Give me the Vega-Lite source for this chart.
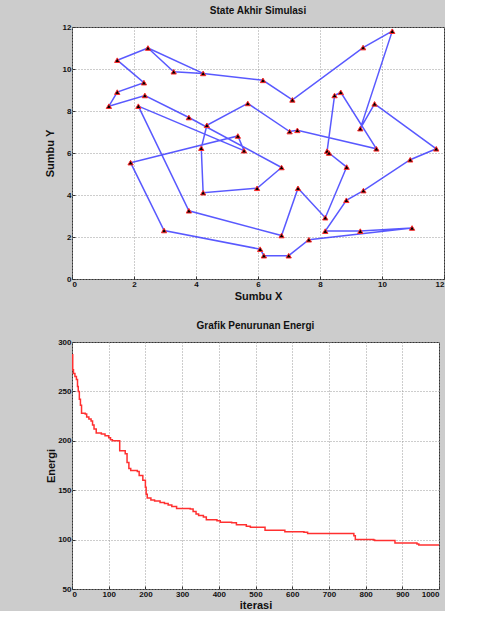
{
  "$schema": "https://vega.github.io/schema/vega-lite/v6.json",
  "background": "#cccccc",
  "padding": {"left": 43, "top": 5, "right": 0, "bottom": 0},
  "spacing": 18,
  "config": {
    "font": "Liberation Sans",
    "view": {"fill": "white", "stroke": "#333333", "strokeWidth": 1},
    "axis": {
      "labelFont": "Liberation Sans", "labelFontSize": 8, "labelFontWeight": "bold", "labelColor": "#111111",
      "titleFont": "Liberation Sans", "titleFontSize": 11, "titleFontWeight": "bold", "titleColor": "#111111",
      "domain": false, "tickColor": "#333333", "tickSize": -3, "labelPadding": 4,
      "gridColor": "#9a9a9a", "gridDash": [1, 2], "gridOpacity": 1, "gridWidth": 1
    },
    "title": {"font": "Liberation Sans", "fontSize": 10, "fontWeight": "bold", "color": "#111111", "offset": 7}
  },
  "vconcat": [
    {
      "width": 372,
      "height": 252,
      "title": "State Akhir Simulasi",
      "data": {"values": [
        {"jalur": 1, "urutan": 1, "x": 2.45, "y": 11.0},
        {"jalur": 1, "urutan": 2, "x": 1.46, "y": 10.42},
        {"jalur": 1, "urutan": 3, "x": 2.32, "y": 9.35},
        {"jalur": 1, "urutan": 4, "x": 1.46, "y": 8.9},
        {"jalur": 1, "urutan": 5, "x": 1.19, "y": 8.23},
        {"jalur": 1, "urutan": 6, "x": 2.35, "y": 8.74},
        {"jalur": 1, "urutan": 7, "x": 3.77, "y": 7.69},
        {"jalur": 1, "urutan": 8, "x": 6.76, "y": 5.31},
        {"jalur": 1, "urutan": 9, "x": 5.97, "y": 4.32},
        {"jalur": 1, "urutan": 10, "x": 4.23, "y": 4.11},
        {"jalur": 1, "urutan": 11, "x": 4.17, "y": 6.23},
        {"jalur": 1, "urutan": 12, "x": 4.35, "y": 7.32},
        {"jalur": 1, "urutan": 13, "x": 5.67, "y": 8.36},
        {"jalur": 1, "urutan": 14, "x": 7.02, "y": 7.02},
        {"jalur": 1, "urutan": 15, "x": 7.27, "y": 7.08},
        {"jalur": 1, "urutan": 16, "x": 9.82, "y": 6.2},
        {"jalur": 1, "urutan": 17, "x": 8.67, "y": 8.89},
        {"jalur": 1, "urutan": 18, "x": 8.47, "y": 8.74},
        {"jalur": 1, "urutan": 19, "x": 8.23, "y": 6.09},
        {"jalur": 1, "urutan": 20, "x": 8.29, "y": 6.0},
        {"jalur": 1, "urutan": 21, "x": 8.86, "y": 5.33},
        {"jalur": 1, "urutan": 22, "x": 8.17, "y": 2.92},
        {"jalur": 1, "urutan": 23, "x": 7.29, "y": 4.32},
        {"jalur": 1, "urutan": 24, "x": 6.76, "y": 2.07},
        {"jalur": 1, "urutan": 25, "x": 3.77, "y": 3.25},
        {"jalur": 1, "urutan": 26, "x": 2.14, "y": 8.23},
        {"jalur": 1, "urutan": 27, "x": 5.55, "y": 6.11},
        {"jalur": 1, "urutan": 28, "x": 5.35, "y": 6.81},
        {"jalur": 1, "urutan": 29, "x": 1.89, "y": 5.54},
        {"jalur": 1, "urutan": 30, "x": 2.97, "y": 2.31},
        {"jalur": 1, "urutan": 31, "x": 6.07, "y": 1.42},
        {"jalur": 1, "urutan": 32, "x": 6.19, "y": 1.11},
        {"jalur": 1, "urutan": 33, "x": 6.99, "y": 1.11},
        {"jalur": 1, "urutan": 34, "x": 7.64, "y": 1.87},
        {"jalur": 1, "urutan": 35, "x": 10.97, "y": 2.43},
        {"jalur": 1, "urutan": 36, "x": 9.3, "y": 2.28},
        {"jalur": 1, "urutan": 37, "x": 8.17, "y": 2.28},
        {"jalur": 1, "urutan": 38, "x": 8.85, "y": 3.75},
        {"jalur": 1, "urutan": 39, "x": 9.4, "y": 4.21},
        {"jalur": 1, "urutan": 40, "x": 10.91, "y": 5.68},
        {"jalur": 1, "urutan": 41, "x": 11.75, "y": 6.2},
        {"jalur": 1, "urutan": 42, "x": 9.76, "y": 8.34},
        {"jalur": 1, "urutan": 43, "x": 9.3, "y": 7.16},
        {"jalur": 1, "urutan": 44, "x": 10.33, "y": 11.8},
        {"jalur": 1, "urutan": 45, "x": 9.39, "y": 11.02},
        {"jalur": 1, "urutan": 46, "x": 7.11, "y": 8.53},
        {"jalur": 1, "urutan": 47, "x": 6.16, "y": 9.46},
        {"jalur": 1, "urutan": 48, "x": 4.23, "y": 9.79},
        {"jalur": 1, "urutan": 49, "x": 3.28, "y": 9.87},
        {"jalur": 1, "urutan": 50, "x": 2.45, "y": 11.0},
        {"jalur": 2, "urutan": 51, "x": 2.45, "y": 11.0},
        {"jalur": 2, "urutan": 52, "x": 4.23, "y": 9.79}
      ]},
      "encoding": {
        "x": {"field": "x", "type": "quantitative", "scale": {"domain": [0, 12], "nice": false},
              "axis": {"values": [0, 2, 4, 6, 8, 10, 12], "title": "Sumbu X", "titlePadding": 2}},
        "y": {"field": "y", "type": "quantitative", "scale": {"domain": [0, 12], "nice": false},
              "axis": {"values": [0, 2, 4, 6, 8, 10, 12], "title": "Sumbu Y", "titlePadding": 7}}
      },
      "layer": [
        {
          "mark": {"type": "line", "color": "#3c3cff", "strokeWidth": 1.5, "opacity": 0.85},
          "encoding": {"order": {"field": "urutan", "type": "quantitative"}, "detail": {"field": "jalur", "type": "nominal"}}
        },
        {
          "transform": [{"filter": "datum.urutan < 50"}],
          "mark": {"type": "point", "shape": "triangle-up", "filled": true, "fill": "#000000", "stroke": "#ff2a2a", "strokeWidth": 1, "size": 28, "opacity": 1},
          "encoding": {}
        }
      ]
    },
    {
      "width": 367,
      "height": 247,
      "title": "Grafik Penurunan Energi",
      "data": {"values": [
        {"iterasi": 0, "energi": 287},
        {"iterasi": 2, "energi": 272},
        {"iterasi": 4, "energi": 268},
        {"iterasi": 8, "energi": 265},
        {"iterasi": 12, "energi": 262},
        {"iterasi": 15, "energi": 255},
        {"iterasi": 17, "energi": 250},
        {"iterasi": 20, "energi": 242},
        {"iterasi": 23, "energi": 236},
        {"iterasi": 26, "energi": 228},
        {"iterasi": 36, "energi": 227},
        {"iterasi": 40, "energi": 224},
        {"iterasi": 46, "energi": 222},
        {"iterasi": 52, "energi": 220},
        {"iterasi": 56, "energi": 216},
        {"iterasi": 60, "energi": 212},
        {"iterasi": 66, "energi": 208},
        {"iterasi": 80, "energi": 207},
        {"iterasi": 90, "energi": 205},
        {"iterasi": 100, "energi": 203},
        {"iterasi": 105, "energi": 201},
        {"iterasi": 110, "energi": 200},
        {"iterasi": 130, "energi": 190},
        {"iterasi": 145, "energi": 187},
        {"iterasi": 150, "energi": 178},
        {"iterasi": 155, "energi": 172},
        {"iterasi": 160, "energi": 170},
        {"iterasi": 178, "energi": 169},
        {"iterasi": 183, "energi": 165},
        {"iterasi": 193, "energi": 160},
        {"iterasi": 200, "energi": 153},
        {"iterasi": 202, "energi": 146},
        {"iterasi": 205, "energi": 142},
        {"iterasi": 215, "energi": 140},
        {"iterasi": 225, "energi": 139},
        {"iterasi": 240, "energi": 137.5},
        {"iterasi": 252, "energi": 136.5},
        {"iterasi": 262, "energi": 135},
        {"iterasi": 272, "energi": 133.5},
        {"iterasi": 285, "energi": 131.5},
        {"iterasi": 322, "energi": 131},
        {"iterasi": 330, "energi": 128.5},
        {"iterasi": 338, "energi": 126},
        {"iterasi": 345, "energi": 124.5},
        {"iterasi": 358, "energi": 123},
        {"iterasi": 366, "energi": 120},
        {"iterasi": 395, "energi": 119},
        {"iterasi": 404, "energi": 117.5},
        {"iterasi": 435, "energi": 117},
        {"iterasi": 448, "energi": 115},
        {"iterasi": 475, "energi": 113.5},
        {"iterasi": 486, "energi": 112.5},
        {"iterasi": 526, "energi": 109.5},
        {"iterasi": 580, "energi": 108},
        {"iterasi": 632, "energi": 107.5},
        {"iterasi": 642, "energi": 106.2},
        {"iterasi": 768, "energi": 104},
        {"iterasi": 772, "energi": 100},
        {"iterasi": 822, "energi": 99.5},
        {"iterasi": 825, "energi": 99},
        {"iterasi": 880, "energi": 96.5},
        {"iterasi": 940, "energi": 95.5},
        {"iterasi": 945, "energi": 94.5},
        {"iterasi": 1000, "energi": 94.5}
      ]},
      "mark": {"type": "line", "interpolate": "step-after", "color": "#ff3030", "strokeWidth": 1.5},
      "encoding": {
        "x": {"field": "iterasi", "type": "quantitative", "scale": {"domain": [0, 1000], "nice": false},
              "axis": {"values": [0, 100, 200, 300, 400, 500, 600, 700, 800, 900, 1000], "format": "d", "title": "iterasi", "titlePadding": 1}},
        "y": {"field": "energi", "type": "quantitative", "scale": {"domain": [50, 300], "nice": false, "zero": false},
              "axis": {"values": [50, 100, 150, 200, 250, 300], "title": "Energi", "titlePadding": 1}}
      }
    }
  ]
}
